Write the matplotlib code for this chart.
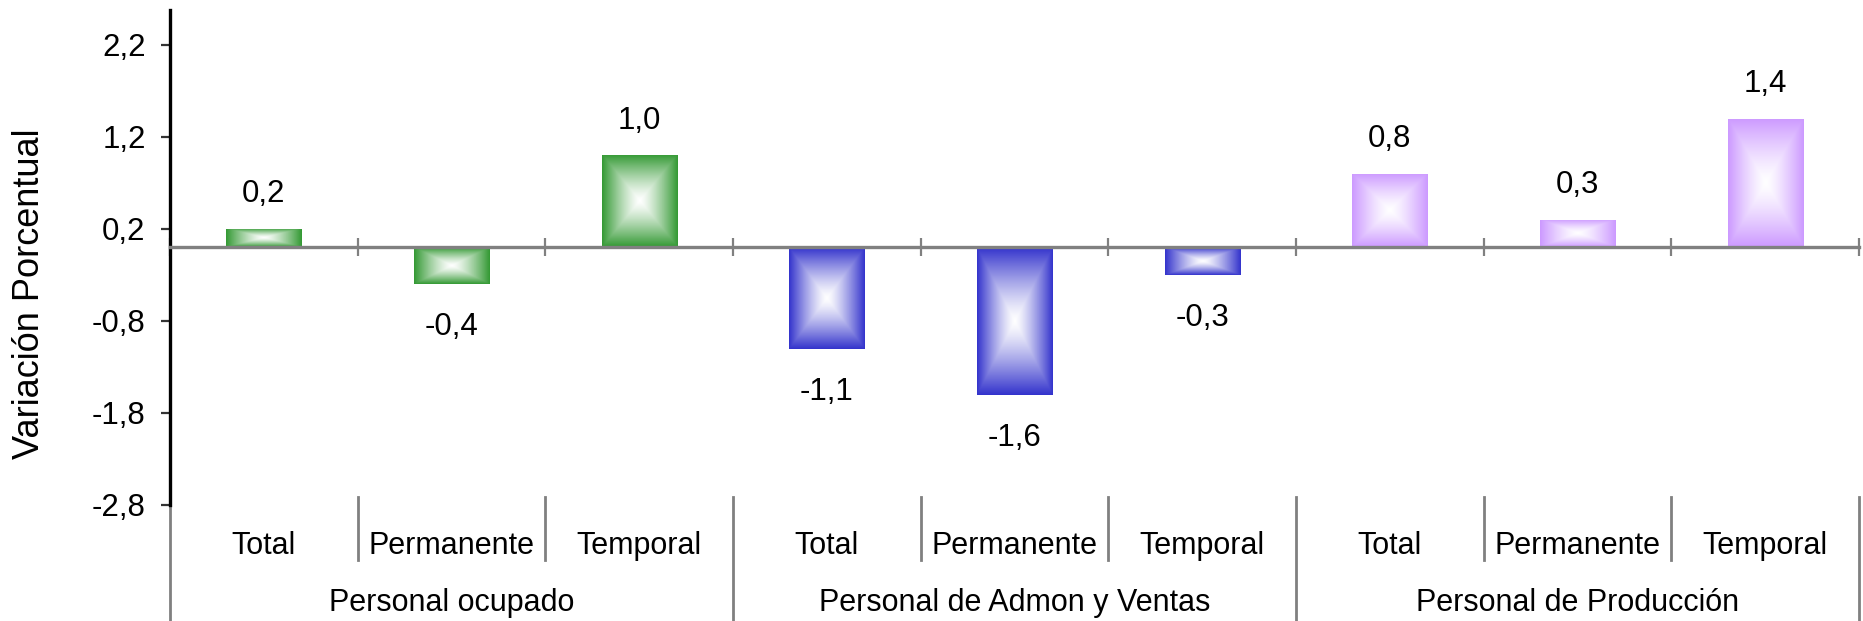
import matplotlib.pyplot as plt
import numpy as np
from matplotlib.ticker import FuncFormatter
from matplotlib.colors import to_rgb

grupos = ["Personal ocupado", "Personal de Admon y Ventas", "Personal de Producción"]
tipos = ["Total", "Permanente", "Temporal"]
valores_ocupado = [0.2, -0.4, 1.0]
valores_admon = [-1.1, -1.6, -0.3]
valores_produccion = [0.8, 0.3, 1.4]
colores = ["#339933", "#3333CC", "#CC99FF"]
yticks = [-2.8, -1.8, -0.8, 0.2, 1.2, 2.2]

plt.rcParams["font.family"] = ["Liberation Sans", "DejaVu Sans"]

W, H = 1863, 621
fig = plt.figure(figsize=(W / 100, H / 100), dpi=100)
ax = fig.add_axes([170 / W, 1 - 505 / H, (1859 - 170) / W, 495 / H])

gris = "#808080"


def coma(v, pos=None):
    return f"{v:.1f}".replace(".", ",")


def degradado(color, n=200, gamma=1.3):
    # relleno rectangular "desde el centro": color en los bordes, blanco en el centro
    u = np.linspace(-1, 1, n)
    t = np.maximum(np.abs(u)[None, :], np.abs(u)[:, None])
    f = t ** gamma
    c = np.array(to_rgb(color))
    return np.ones((n, n, 3)) * (1 - f[..., None]) + c * f[..., None]


ax.set_xlim(0, 9)
ax.set_ylim(-2.8, 2.58)

series = [valores_ocupado, valores_admon, valores_produccion]
for g, (vals, col) in enumerate(zip(series, colores)):
    xs = [g * 3 + i + 0.5 for i in range(3)]
    bars = ax.bar(xs, vals, width=0.4, color="none", linewidth=0, zorder=2)
    img = degradado(col)
    for x, v, b in zip(xs, vals, bars):
        im = ax.imshow(img, extent=(x - 0.2, x + 0.2, min(0, v), max(0, v)),
                       aspect="auto", interpolation="bilinear", zorder=2)
        im.set_clip_path(b)
        off = 25 if v >= 0 else -31
        ax.annotate(coma(v), (x, v), xytext=(0, off), textcoords="offset points",
                    ha="center", va="center", fontsize=22.5)

ax.set_xlim(0, 9)
ax.set_ylim(-2.8, 2.58)

# ejes
ax.spines["top"].set_visible(False)
ax.spines["right"].set_visible(False)
ax.spines["left"].set_color("black")
ax.spines["left"].set_linewidth(2.4)
ax.spines["bottom"].set_position(("data", 0))
ax.spines["bottom"].set_color(gris)
ax.spines["bottom"].set_linewidth(2.4)
ax.spines["bottom"].set_zorder(3)

ax.set_xticks(range(10))
ax.set_xticklabels([])
ax.tick_params(axis="x", direction="inout", length=13, width=1.6, color=gris)

ax.set_yticks(yticks)
ax.yaxis.set_major_formatter(FuncFormatter(coma))
ax.tick_params(axis="y", direction="out", length=6.5, width=1.6, color="#333333",
               labelsize=22.5, pad=11)

fig.text(30 / W, 1 - 294 / H, "Variación Porcentual", rotation=90,
         ha="center", va="center", fontsize=26)

# eje de categorías de dos niveles
tr = ax.get_xaxis_transform()
for g, grupo in enumerate(grupos):
    for i, t in enumerate(tipos):
        ax.text(g * 3 + i + 0.5, -0.083, t, transform=tr, ha="center", va="center",
                fontsize=22)
    ax.text(g * 3 + 1.5, -0.198, grupo, transform=tr, ha="center", va="center",
            fontsize=22)

for k in range(10):
    if k % 3 == 0:
        y0 = 0.0 if k == 0 else 0.016
        ax.plot([k, k], [y0, -0.234], transform=tr, color=gris, lw=2,
                clip_on=False)
    else:
        ax.plot([k, k], [0.016, -0.111], transform=tr, color=gris, lw=2,
                clip_on=False)

fig.savefig("out.png", dpi=100)
